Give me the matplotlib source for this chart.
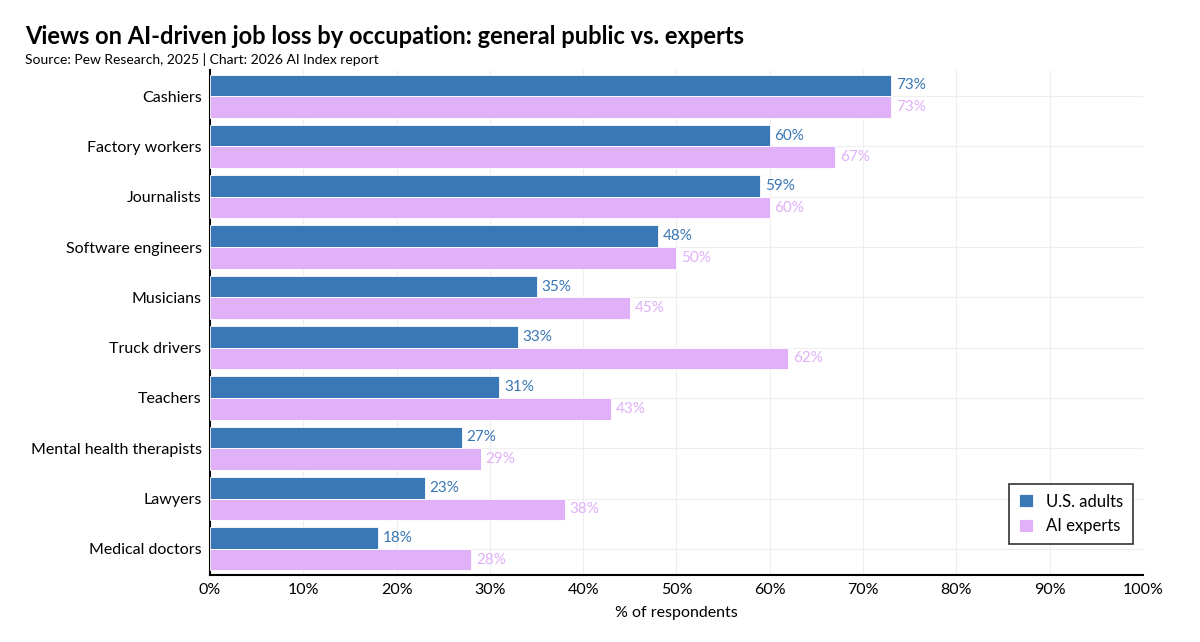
import matplotlib.pyplot as plt
import numpy as np

# Occupations, top to bottom
occupations = ["Cashiers", "Factory workers", "Journalists", "Software engineers",
               "Musicians", "Truck drivers", "Teachers", "Mental health therapists",
               "Lawyers", "Medical doctors"]
us_adults = [73, 60, 59, 48, 35, 33, 31, 27, 23, 18]
ai_experts = [73, 67, 60, 50, 45, 62, 43, 29, 38, 28]

blue = '#3a77b6'
pink = '#e0b0f8'

plt.rcParams['font.family'] = ['Lato', 'DejaVu Sans']

fig = plt.figure(figsize=(12, 6.42), dpi=100)
ax = fig.add_axes([0.175, 0.1044, 0.7775, 0.7866])

y = np.arange(len(occupations))
h = 0.43
ax.barh(y - h / 2, us_adults, height=h, color=blue, edgecolor='white', linewidth=0.6,
        label='U.S. adults', zorder=3)
ax.barh(y + h / 2, ai_experts, height=h, color=pink, edgecolor='white', linewidth=0.6,
        label='AI experts', zorder=3)

for i in range(len(occupations)):
    ax.text(us_adults[i] + 0.5, y[i] - h / 2, f"{us_adults[i]}%", color=blue,
            va='center', ha='left', fontsize=11)
    ax.text(ai_experts[i] + 0.5, y[i] + h / 2, f"{ai_experts[i]}%", color=pink,
            va='center', ha='left', fontsize=11)

ax.set_yticks(y)
ax.set_yticklabels(occupations, fontsize=11.5)
ax.set_ylim(len(occupations) - 0.48, -0.52)
ax.set_xlim(0, 100)
ax.set_xticks(np.arange(0, 101, 10))
ax.set_xticklabels([f"{v}%" for v in range(0, 101, 10)], fontsize=11.5)
ax.set_xlabel('% of respondents', fontsize=11.5, labelpad=6)

ax.grid(True, color='#eeeeee', linewidth=0.8, zorder=0)
ax.set_axisbelow(True)
ax.tick_params(length=0, pad=6)
for s in ['top', 'right']:
    ax.spines[s].set_visible(False)
ax.spines['left'].set_linewidth(1.5)
ax.spines['bottom'].set_linewidth(1.5)

leg = ax.legend(loc='lower right', bbox_to_anchor=(0.9985, 0.045), fontsize=12,
                frameon=True, fancybox=False, handlelength=0.8, handleheight=0.8,
                borderpad=0.6, labelspacing=0.5)
leg.get_frame().set_edgecolor('black')
leg.get_frame().set_linewidth(1.2)

fig.text(0.021, 0.932, 'Views on AI-driven job loss by occupation: general public vs. experts',
         fontsize=17, fontweight='bold')
fig.text(0.021, 0.9, 'Source: Pew Research, 2025 | Chart: 2026 AI Index report', fontsize=10)

fig.savefig('out.png', dpi=100)
